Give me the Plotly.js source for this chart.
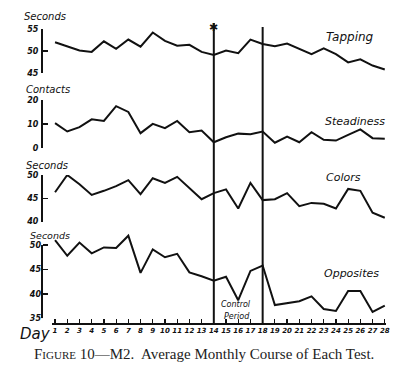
<!DOCTYPE html>
<html><head><meta charset="utf-8">
<script src="https://cdn.plot.ly/plotly-3.0.1.min.js"></script>
<style>html,body{margin:0;padding:0;background:#fff}#chart{width:400px;height:369px}</style>
</head><body><div id="chart"></div>
<script>
const days = [1,2,3,4,5,6,7,8,9,10,11,12,13,14,15,16,17,18,19,20,21,22,23,24,25,26,27,28];
const tapping = [52.0,51.0,50.1,49.8,52.2,50.5,52.6,51.0,54.2,52.3,51.2,51.4,49.8,49.1,50.1,49.5,52.6,51.6,51.1,51.7,50.5,49.3,50.6,49.3,47.4,48.1,46.7,45.8];
const steadiness = [10.3,6.8,8.6,11.9,11.2,17.4,15.0,6.1,10.0,8.2,11.2,6.5,7.2,2.3,4.4,5.9,5.6,6.8,2.1,4.7,2.3,6.5,3.3,3.0,5.4,7.7,4.0,3.8];
const colors = [46.3,50.0,48.0,45.7,46.6,47.6,48.9,45.9,49.3,48.3,49.6,47.1,44.8,46.1,46.9,42.8,48.3,44.6,44.8,46.1,43.3,44.0,43.8,42.8,47.0,46.6,41.9,40.8];
const opposites = [51.0,47.8,50.5,48.3,49.5,49.4,51.9,44.3,49.1,47.5,48.2,44.4,43.6,42.7,43.5,38.7,44.7,45.8,37.7,38.1,38.5,39.5,36.9,36.5,40.6,40.6,36.3,37.6];
const tapTicks = [45,50,55];
const steadTicks = [0,10,20];
const colTicks = [40,45,50];
const oppTicks = [35,40,45,50];
const dayTicks = days.map(String);
const controlDays = [14,18];

const L = 42, R = 14, B = 45, W = 400, H = 369;
const pw = W - L - R, ph = H - B;
const px = x => (x - L) / pw;
const py = y => (ph - y) / ph;

const line = {color:'#111', width:2};
const mk = (y, ax) => ({x: days, y: y, xaxis:'x', yaxis: ax, mode:'lines', line: line, hoverinfo:'skip', showlegend:false});

const tfont = {family:'DejaVu Sans', size:8, color:'#111', style:'italic', weight:'bold'};
const yax = (dom, rng, tv, showline) => ({
  domain: dom, range: rng, tickvals: tv, ticktext: tv.map(String), anchor:'free', position:0,
  showline:showline, linewidth:2, linecolor:'#111', ticks:'inside', ticklen:5, tickwidth:1.5, tickcolor:'#111',
  showgrid:false, zeroline:false, tickfont: tfont, ticklabelstandoff: 1, fixedrange:true
});

const hand = (text, x, y, size, anchor) => ({
  text: text, xref:'paper', yref:'paper', x: px(x), y: py(y), xanchor: anchor || 'left', yanchor:'middle',
  showarrow:false, font:{family:'DejaVu Sans', size:size, color:'#111', style:'italic'}
});

// opposites: 50 at y=245, 35 at y=318.3 -> 4.887 px/unit; extend top to y=233
const oppTopVal = 50 + (245 - 233) / 4.887;

const layout = {
  width: W, height: H, margin:{l:L, r:R, t:0, b:B},
  paper_bgcolor:'#fff', plot_bgcolor:'rgba(0,0,0,0)',
  xaxis: {domain:[px(52),1], range:[0.75,28.1], tickvals: days, ticktext: dayTicks, anchor:'free', position:0,
    showline:true, linewidth:2, linecolor:'#111', ticks:'inside', ticklen:4, tickwidth:1.2, tickcolor:'#111',
    showgrid:false, zeroline:false, tickfont:{family:'DejaVu Sans', size:7, color:'#111', style:'italic', weight:'bold'}, tickangle:0, fixedrange:true},
  yaxis: yax([py(73), py(29)], [45,55], tapTicks, true),
  yaxis2: yax([py(147.7), py(100)], [0,20], steadTicks, true),
  yaxis3: yax([py(221.5), py(175)], [40,50], colTicks, true),
  yaxis4: yax([py(318.3), py(233)], [35,oppTopVal], oppTicks, false),
  shapes: [
    {type:'line', xref:'paper', yref:'y4', x0:0, x1:0, y0:oppTicks[0], y1:oppTicks[oppTicks.length-1], line:{color:'#111', width:2}},
    {type:'line', xref:'x', yref:'paper', x0:controlDays[0], x1:controlDays[0], y0:0, y1:py(23), line:{color:'#111', width:2}},
    {type:'line', xref:'x', yref:'paper', x0:controlDays[1], x1:controlDays[1], y0:0, y1:py(27), line:{color:'#111', width:2}}
  ],
  annotations: [
    hand('Seconds', 22, 16, 10),
    hand('Contacts', 24, 89, 10),
    hand('Seconds', 24, 165, 10),
    hand('Seconds', 28, 235, 9.5),
    hand('Tapping', 324, 37, 12),
    hand('Steadiness', 323, 121, 11),
    hand('Colors', 324, 177, 11),
    hand('Opposites', 322, 273, 11),
    hand('Control', 236, 304, 8, 'center'),
    hand('Period', 237, 316, 8, 'center'),
    hand('Day', 18, 334, 15),
    {text:'✱', xref:'x', yref:'paper', x:controlDays[0], y:py(26), showarrow:false, font:{size:11, color:'#111'}, xanchor:'center', yanchor:'middle'},
    {text:'F<span style="font-size:11px">IGURE</span> 10—M2.  Average Monthly Course of Each Test.', xref:'paper', yref:'paper',
      x: px(204), y: py(354), xanchor:'center', yanchor:'middle', showarrow:false,
      font:{family:'Liberation Serif', size:15, color:'#222'}}
  ]
};

Plotly.newPlot('chart', [mk(tapping,'y'), mk(steadiness,'y2'), mk(colors,'y3'), mk(opposites,'y4')], layout, {staticPlot:true, displayModeBar:false});
</script></body></html>
